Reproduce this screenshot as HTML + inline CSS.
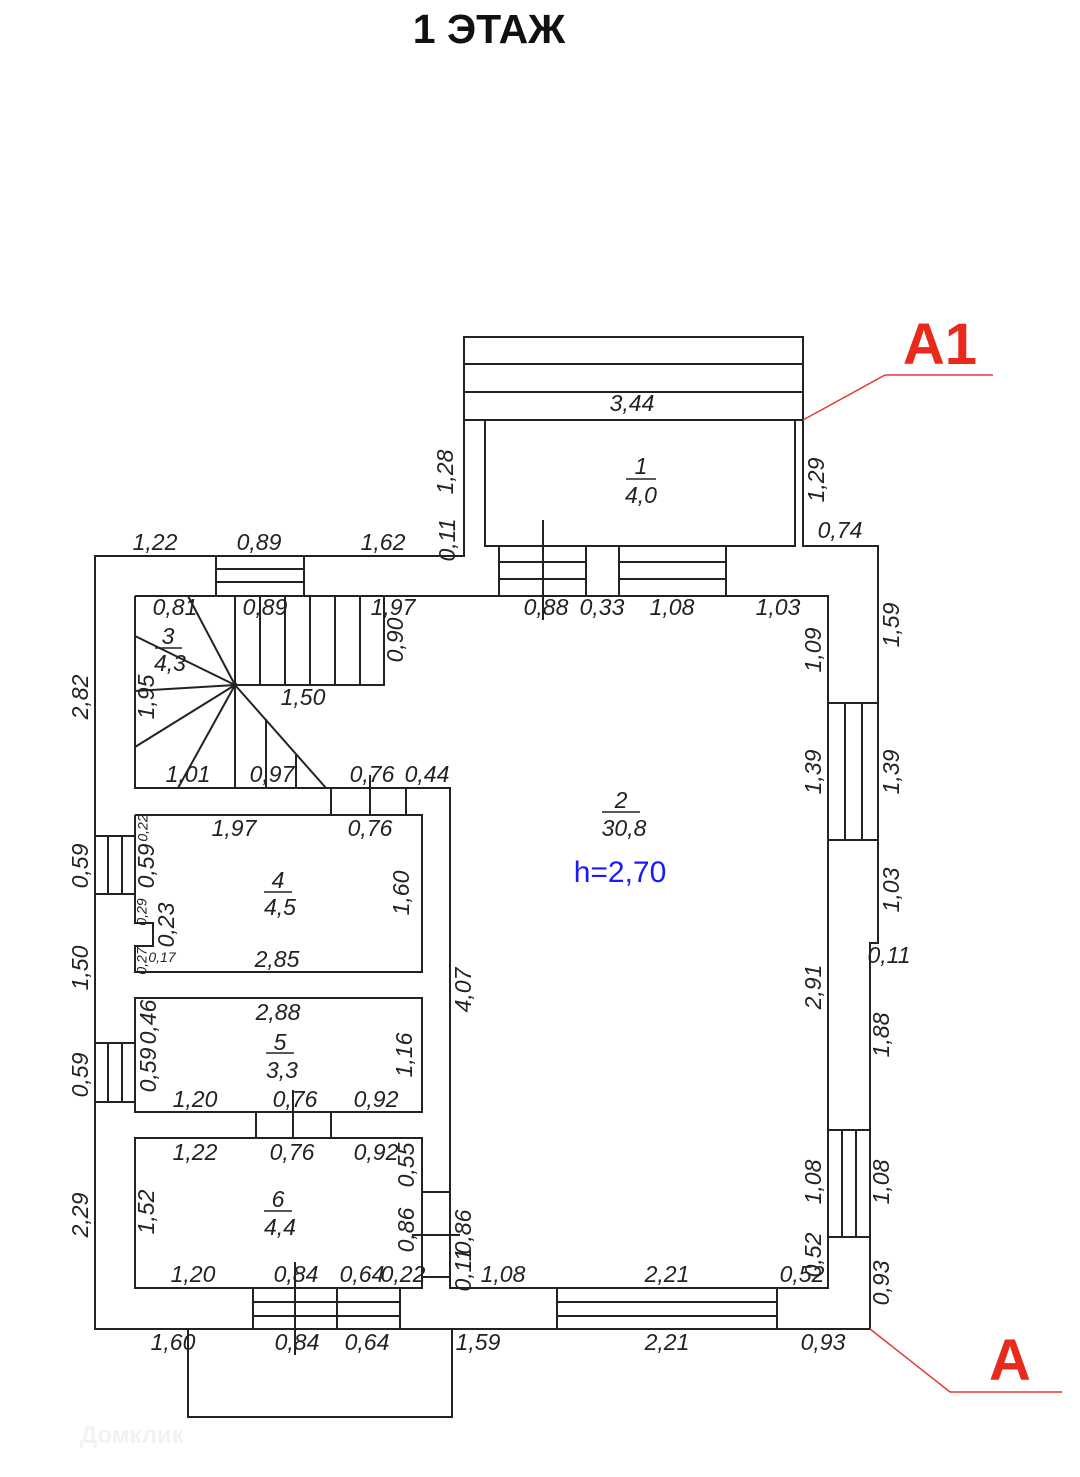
<!DOCTYPE html>
<html><head><meta charset="utf-8"><style>
html,body{margin:0;padding:0;background:#fff}
svg{display:block}
.t{font-family:"Liberation Sans Narrow","Liberation Sans",sans-serif;font-style:italic;font-size:23px;fill:#222;text-anchor:middle}
.s{font-size:14px}
.v{dominant-baseline:middle}
line,polyline,rect,path{stroke:#222;stroke-width:2;fill:none}
</style></head><body>
<svg width="1080" height="1477" viewBox="0 0 1080 1477" xmlns="http://www.w3.org/2000/svg">
<text x="489" y="43" style="font-family:'Liberation Sans',sans-serif;font-weight:bold;font-size:41px;text-anchor:middle;fill:#111">1 ЭТАЖ</text>

<!-- porch top -->
<rect x="464" y="337" width="339" height="83"/>
<line x1="464" y1="364" x2="803" y2="364"/><line x1="464" y1="392" x2="803" y2="392"/>
<!-- outer walls -->
<polyline points="464,420 464,556 95,556 95,1329 870,1329 870,943 878,943 878,546 803,546 803,420"/>
<!-- room 1 -->
<polyline points="485,420 485,546 795,546 795,420"/>
<line x1="543" y1="520" x2="543" y2="620"/>
<!-- top windows room 2 -->
<rect x="499" y="546" width="87" height="50"/><line x1="499" y1="562" x2="586" y2="562"/><line x1="499" y1="579" x2="586" y2="579"/>
<rect x="619" y="546" width="107" height="50"/><line x1="619" y1="562" x2="726" y2="562"/><line x1="619" y1="579" x2="726" y2="579"/>
<!-- stair window -->
<rect x="216" y="556" width="88" height="40"/><line x1="216" y1="569" x2="304" y2="569"/><line x1="216" y1="582" x2="304" y2="582"/>
<!-- room 2 inner -->
<polyline points="135,596 828,596 828,1288 450,1288 450,788 330,788"/>
<!-- stair room 3 -->
<polyline points="135,596 135,788 330,788"/>
<polyline points="235,596 235,685 384,685 384,596"/>
<line x1="260" y1="596" x2="260" y2="685"/><line x1="285" y1="596" x2="285" y2="685"/><line x1="310" y1="596" x2="310" y2="685"/><line x1="335" y1="596" x2="335" y2="685"/><line x1="360" y1="596" x2="360" y2="685"/>
<line x1="235" y1="685" x2="188" y2="596"/><line x1="235" y1="685" x2="135" y2="636"/><line x1="235" y1="685" x2="135" y2="691"/><line x1="235" y1="685" x2="135" y2="747"/><line x1="235" y1="685" x2="178" y2="788"/><line x1="235" y1="685" x2="235" y2="788"/><line x1="235" y1="685" x2="326" y2="788"/>
<line x1="266" y1="719" x2="266" y2="788"/><line x1="296" y1="755" x2="296" y2="788"/>
<circle cx="235" cy="685" r="2.5" fill="#222"/>
<!-- door stair -->
<line x1="331" y1="788" x2="331" y2="815"/><line x1="406" y1="788" x2="406" y2="815"/><line x1="370" y1="775" x2="370" y2="815"/>
<!-- room 4 -->
<polyline points="135,815 422,815 422,972 135,972 135,946 153,946 153,923 135,923 135,815"/>
<rect x="95" y="836" width="40" height="58"/><line x1="108" y1="836" x2="108" y2="894"/><line x1="122" y1="836" x2="122" y2="894"/>
<!-- room 5 -->
<rect x="135" y="998" width="287" height="114"/>
<rect x="95" y="1043" width="40" height="59"/><line x1="108" y1="1043" x2="108" y2="1102"/><line x1="122" y1="1043" x2="122" y2="1102"/>
<line x1="256" y1="1112" x2="256" y2="1138"/><line x1="331" y1="1112" x2="331" y2="1138"/><line x1="293" y1="1090" x2="293" y2="1138"/>
<!-- room 6 -->
<rect x="135" y="1138" width="287" height="150"/>
<line x1="422" y1="1192" x2="450" y2="1192"/><line x1="422" y1="1277" x2="450" y2="1277"/><line x1="412" y1="1235" x2="460" y2="1235"/>
<rect x="253" y="1288" width="147" height="41"/><line x1="337" y1="1288" x2="337" y2="1329"/>
<line x1="253" y1="1302" x2="400" y2="1302"/><line x1="253" y1="1316" x2="400" y2="1316"/>
<line x1="295" y1="1262" x2="295" y2="1355"/>
<!-- bottom porch -->
<polyline points="188,1329 188,1417 452,1417 452,1329"/>
<!-- bottom right window -->
<rect x="557" y="1288" width="220" height="41"/><line x1="557" y1="1302" x2="777" y2="1302"/><line x1="557" y1="1316" x2="777" y2="1316"/>
<!-- right windows -->
<rect x="828" y="703" width="50" height="137"/><line x1="845" y1="703" x2="845" y2="840"/><line x1="862" y1="703" x2="862" y2="840"/>
<rect x="828" y="1130" width="42" height="107"/><line x1="842" y1="1130" x2="842" y2="1237"/><line x1="856" y1="1130" x2="856" y2="1237"/>

<!-- red markers -->
<polyline points="803,420 885,375 993,375" style="stroke:#e53935;stroke-width:1.5"/>
<polyline points="870,1329 950,1392 1062,1392" style="stroke:#e53935;stroke-width:1.5"/>
<text x="940" y="364" style="font-family:'Liberation Sans',sans-serif;font-weight:bold;font-size:58px;fill:#e8291c;text-anchor:middle">A1</text>
<text x="1010" y="1380" style="font-family:'Liberation Sans',sans-serif;font-weight:bold;font-size:58px;fill:#e8291c;text-anchor:middle">A</text>

<!-- room labels -->
<text class="t" x="641" y="474">1</text><line x1="626" y1="479" x2="656" y2="479" style="stroke-width:1.5"/><text class="t" x="641" y="503">4,0</text>
<text class="t" x="621" y="808">2</text><line x1="602" y1="812" x2="640" y2="812" style="stroke-width:1.5"/><text class="t" x="624" y="836">30,8</text>
<text x="620" y="882" style="font-family:'Liberation Sans',sans-serif;font-style:normal;font-size:30px;fill:#1a1aff;text-anchor:middle">h=2,70</text>
<text class="t" x="168" y="644">3</text><line x1="155" y1="648" x2="182" y2="648" style="stroke-width:1.5"/><text class="t" x="170" y="671">4,3</text>
<text class="t" x="278" y="888">4</text><line x1="264" y1="892" x2="292" y2="892" style="stroke-width:1.5"/><text class="t" x="280" y="915">4,5</text>
<text class="t" x="280" y="1050">5</text><line x1="266" y1="1053" x2="294" y2="1053" style="stroke-width:1.5"/><text class="t" x="282" y="1078">3,3</text>
<text class="t" x="278" y="1207">6</text><line x1="264" y1="1211" x2="292" y2="1211" style="stroke-width:1.5"/><text class="t" x="280" y="1235">4,4</text>

<!-- horizontal dims -->
<text class="t" x="632" y="411">3,44</text>
<text class="t" x="155" y="550">1,22</text><text class="t" x="259" y="550">0,89</text><text class="t" x="383" y="550">1,62</text>
<text class="t" x="840" y="538">0,74</text>
<text class="t" x="175" y="615">0,81</text><text class="t" x="265" y="615">0,89</text><text class="t" x="393" y="615">1,97</text>
<text class="t" x="546" y="615">0,88</text><text class="t" x="602" y="615">0,33</text><text class="t" x="672" y="615">1,08</text><text class="t" x="778" y="615">1,03</text>
<text class="t" x="303" y="705">1,50</text>
<text class="t" x="188" y="782">1,01</text><text class="t" x="272" y="782">0,97</text><text class="t" x="372" y="782">0,76</text><text class="t" x="427" y="782">0,44</text>
<text class="t" x="234" y="836">1,97</text><text class="t" x="370" y="836">0,76</text>
<text class="t" x="277" y="967">2,85</text><text class="t" x="278" y="1020">2,88</text>
<text class="t" x="195" y="1107">1,20</text><text class="t" x="295" y="1107">0,76</text><text class="t" x="376" y="1107">0,92</text>
<text class="t" x="195" y="1160">1,22</text><text class="t" x="292" y="1160">0,76</text><text class="t" x="376" y="1160">0,92</text>
<text class="t" x="193" y="1282">1,20</text><text class="t" x="296" y="1282">0,84</text><text class="t" x="362" y="1282">0,64</text><text class="t" x="403" y="1282">0,22</text>
<text class="t" x="503" y="1282">1,08</text><text class="t" x="667" y="1282">2,21</text><text class="t" x="802" y="1282">0,52</text>
<text class="t" x="173" y="1350">1,60</text><text class="t" x="297" y="1350">0,84</text><text class="t" x="367" y="1350">0,64</text><text class="t" x="478" y="1350">1,59</text><text class="t" x="667" y="1350">2,21</text><text class="t" x="823" y="1350">0,93</text>
<text class="t" x="889" y="963">0,11</text>
<text class="t s" x="162" y="962">0,17</text>

<!-- vertical dims -->
<text class="t v" x="447" y="472" transform="rotate(-90 447 472)">1,28</text>
<text class="t v" x="449" y="540" transform="rotate(-90 449 540)">0,11</text>
<text class="t v" x="818" y="480" transform="rotate(-90 818 480)">1,29</text>
<text class="t v" x="893" y="625" transform="rotate(-90 893 625)">1,59</text>
<text class="t v" x="815" y="650" transform="rotate(-90 815 650)">1,09</text>
<text class="t v" x="397" y="640" transform="rotate(-90 397 640)">0,90</text>
<text class="t v" x="148" y="697" transform="rotate(-90 148 697)">1,95</text>
<text class="t v" x="82" y="697" transform="rotate(-90 82 697)">2,82</text>
<text class="t v" x="815" y="772" transform="rotate(-90 815 772)">1,39</text>
<text class="t v" x="893" y="772" transform="rotate(-90 893 772)">1,39</text>
<text class="t v" x="815" y="987" transform="rotate(-90 815 987)">2,91</text>
<text class="t v" x="893" y="890" transform="rotate(-90 893 890)">1,03</text>
<text class="t v" x="883" y="1035" transform="rotate(-90 883 1035)">1,88</text>
<text class="t v" x="465" y="990" transform="rotate(-90 465 990)">4,07</text>
<text class="t v" x="82" y="866" transform="rotate(-90 82 866)">0,59</text>
<text class="t v s" x="144" y="828" transform="rotate(-90 144 828)">0,22</text>
<text class="t v" x="148" y="866" transform="rotate(-90 148 866)">0,59</text>
<text class="t v s" x="143" y="912" transform="rotate(-90 143 912)">0,29</text>
<text class="t v" x="168" y="925" transform="rotate(-90 168 925)">0,23</text>
<text class="t v s" x="143" y="961" transform="rotate(-90 143 961)">0,27</text>
<text class="t v" x="403" y="893" transform="rotate(-90 403 893)">1,60</text>
<text class="t v" x="150" y="1022" transform="rotate(-90 150 1022)">0,46</text>
<text class="t v" x="150" y="1070" transform="rotate(-90 150 1070)">0,59</text>
<text class="t v" x="406" y="1055" transform="rotate(-90 406 1055)">1,16</text>
<text class="t v" x="82" y="968" transform="rotate(-90 82 968)">1,50</text>
<text class="t v" x="82" y="1075" transform="rotate(-90 82 1075)">0,59</text>
<text class="t v" x="82" y="1215" transform="rotate(-90 82 1215)">2,29</text>
<text class="t v" x="148" y="1212" transform="rotate(-90 148 1212)">1,52</text>
<text class="t v" x="408" y="1165" transform="rotate(-90 408 1165)">0,55</text>
<text class="t v" x="408" y="1230" transform="rotate(-90 408 1230)">0,86</text>
<text class="t v" x="465" y="1232" transform="rotate(-90 465 1232)">0,86</text>
<text class="t v" x="465" y="1270" transform="rotate(-90 465 1270)">0,11</text>
<text class="t v" x="815" y="1182" transform="rotate(-90 815 1182)">1,08</text>
<text class="t v" x="883" y="1182" transform="rotate(-90 883 1182)">1,08</text>
<text class="t v" x="815" y="1255" transform="rotate(-90 815 1255)">0,52</text>
<text class="t v" x="883" y="1283" transform="rotate(-90 883 1283)">0,93</text>

<text x="80" y="1443" style="font-family:'Liberation Sans',sans-serif;font-weight:bold;font-size:24px;fill:#f2f2f2">Домклик</text>
</svg>
</body></html>
